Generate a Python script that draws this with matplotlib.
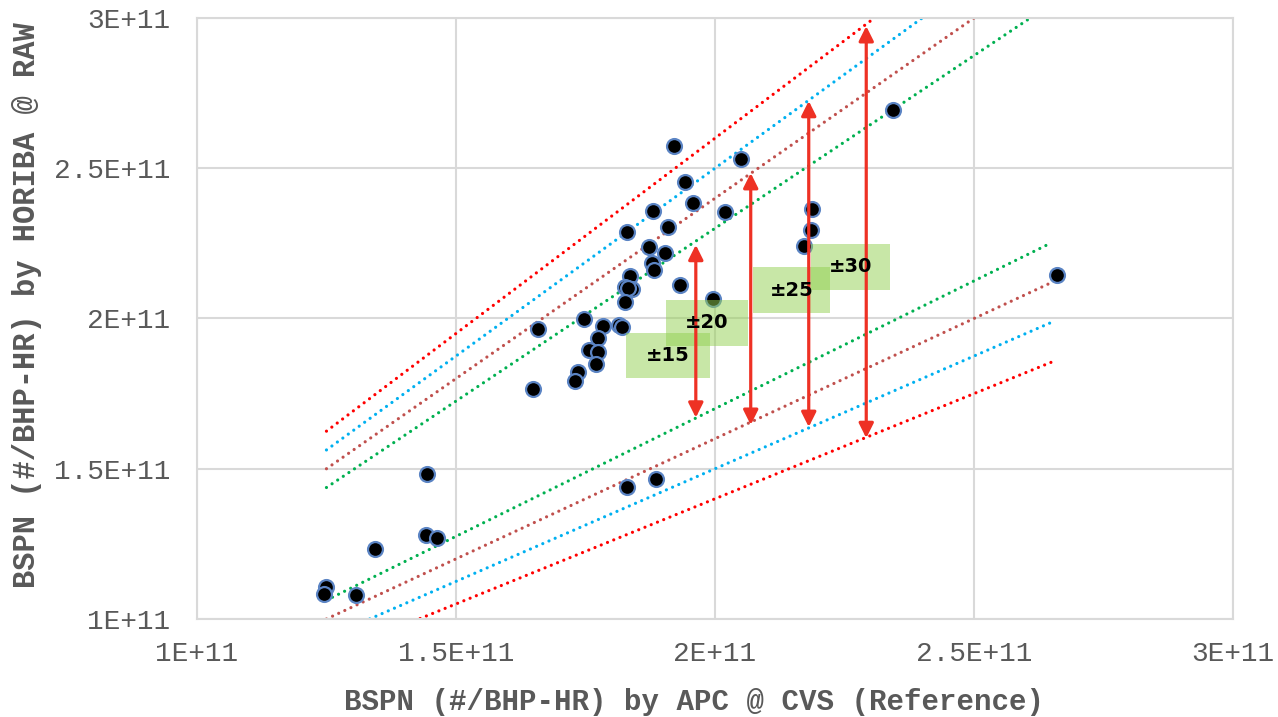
import numpy as np
import matplotlib
matplotlib.use("Agg")
import matplotlib.pyplot as plt
from matplotlib.patches import Rectangle
from matplotlib.ticker import FuncFormatter

# scatter points (units of 1E+11)
ref_x = [1.920, 2.050, 1.942, 1.958, 2.020, 1.880, 1.830, 1.909, 1.873, 1.903,
         1.879, 1.882, 1.933, 1.836, 1.826, 1.840, 1.833, 1.826, 1.997, 1.748,
         1.658, 1.783, 1.815, 1.820, 1.775, 1.757, 1.774, 1.771, 1.736, 1.730,
         1.649, 2.344, 2.188, 2.185, 2.172, 2.660, 1.445, 1.442, 1.463, 1.344,
         1.249, 1.246, 1.308, 1.831, 1.887]
horiba_y = [2.575, 2.530, 2.455, 2.383, 2.353, 2.358, 2.288, 2.305, 2.239, 2.217,
            2.184, 2.161, 2.112, 2.142, 2.106, 2.097, 2.100, 2.055, 2.064, 1.997,
            1.964, 1.975, 1.979, 1.973, 1.936, 1.895, 1.890, 1.848, 1.823, 1.793,
            1.765, 2.694, 2.365, 2.295, 2.242, 2.145, 1.484, 1.280, 1.270, 1.232,
            1.105, 1.082, 1.081, 1.440, 1.465]

# +/- percentage bands
band_pct = [15, 20, 25, 30]
band_colors = ["#00B050", "#C0504D", "#00B0F0", "#FF0000"]
band_x = [1.25, 2.65]

# arrows showing band spans
arrow_x = [1.963, 2.069, 2.181, 2.292]
arrow_lo = [1.670, 1.646, 1.639, 1.602]
arrow_hi = [2.245, 2.484, 2.724, 2.973]

# label boxes: x0, x1, y0, y1
box_x0 = [1.828, 1.905, 2.073, 2.185]
box_x1 = [1.990, 2.063, 2.222, 2.338]
box_y0 = [1.802, 1.908, 2.018, 2.095]
box_y1 = [1.952, 2.062, 2.171, 2.248]
box_labels = ["\u00b115", "\u00b120", "\u00b125", "\u00b130"]

E = 1e11
gray = "#595959"
gridc = "#D9D9D9"

fig = plt.figure(figsize=(12.78, 7.17), dpi=100)
ax = fig.add_axes([0.1541, 0.1367, 0.9648 - 0.1541, 0.9749 - 0.1367])

ax.set_xlim(1 * E, 3 * E)
ax.set_ylim(1 * E, 3 * E)
ax.set_xticks(np.array([1, 1.5, 2, 2.5, 3]) * E)
ax.set_yticks(np.array([1, 1.5, 2, 2.5, 3]) * E)
ax.grid(True, color=gridc, linewidth=1.5)
ax.set_axisbelow(True)
for s in ax.spines.values():
    s.set_color(gridc)
    s.set_linewidth(1.5)
ax.tick_params(length=0, labelsize=20, labelcolor=gray)
ax.tick_params(axis="x", pad=16)
ax.tick_params(axis="y", pad=19)
fmt = FuncFormatter(lambda v, p: "%gE+11" % (v / E))
ax.xaxis.set_major_formatter(fmt)
ax.yaxis.set_major_formatter(fmt)
for lab in ax.get_xticklabels() + ax.get_yticklabels():
    lab.set_family("Liberation Mono")

# dotted band lines
bx = np.array(band_x) * E
for p, c in zip(band_pct, band_colors):
    for k in (1 + p / 100, 1 - p / 100):
        ax.plot(bx, bx * k, color=c, lw=2.3, linestyle=(0, (0.01, 2.1)),
                dash_capstyle="round", zorder=2)

ax.scatter(np.array(ref_x) * E, np.array(horiba_y) * E, s=115, c="black",
           edgecolors="#5B84C4", linewidths=1.6, zorder=3)

for x0, x1, y0, y1, t in zip(box_x0, box_x1, box_y0, box_y1, box_labels):
    ax.add_patch(Rectangle((x0 * E, y0 * E), (x1 - x0) * E, (y1 - y0) * E,
                           facecolor="#92D050", alpha=0.5, edgecolor="none", zorder=4))
    ax.text((x0 + x1) / 2 * E, (y0 + y1) / 2 * E, t, ha="center", va="center",
            fontsize=14, fontweight="bold", family="DejaVu Sans", zorder=6)

for x, lo, hi in zip(arrow_x, arrow_lo, arrow_hi):
    ax.annotate("", xy=(x * E, hi * E), xytext=(x * E, lo * E),
                arrowprops=dict(arrowstyle="<|-|>", color="#EE3124", lw=2.3,
                                mutation_scale=22, shrinkA=0, shrinkB=0),
                zorder=5)

xl = ax.set_xlabel("BSPN (#/BHP-HR) by APC @ CVS (Reference)", family="Liberation Mono",
                   fontsize=21, fontweight="bold", color=gray)
yl = ax.set_ylabel("BSPN (#/BHP-HR) by HORIBA @ RAW", family="Liberation Mono",
                   fontsize=22, fontweight="bold", color=gray)
xl.set_va("center")
yl.set_va("center")
ax.xaxis.set_label_coords(0.48, -0.138)
ax.yaxis.set_label_coords(-0.164, 0.522)

fig.savefig("out.png", dpi=100)
